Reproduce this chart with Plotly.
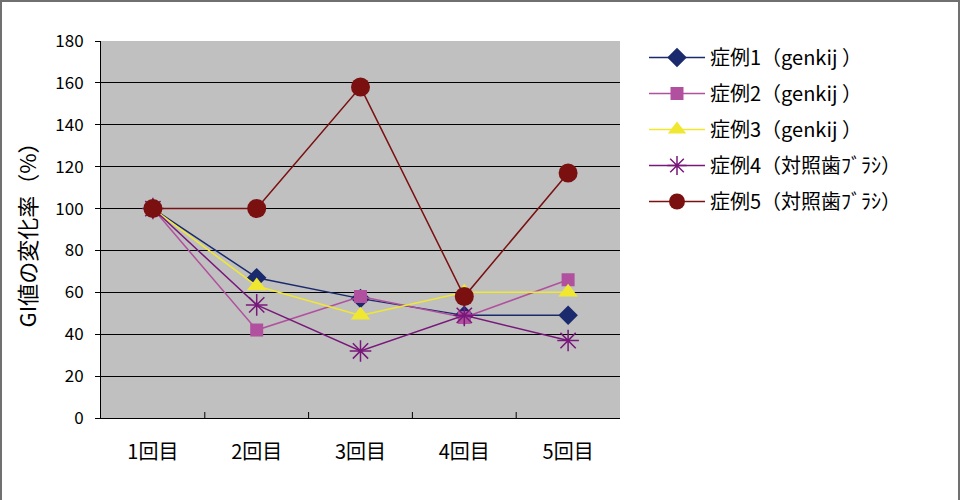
import plotly.graph_objects as go

categories = ["1回目", "2回目", "3回目", "4回目", "5回目"]
names = ["症例1（genkij ）", "症例2（genkij ）", "症例3（genkij ）",
         "症例4（対照歯ﾌﾞﾗｼ）", "症例5（対照歯ﾌﾞﾗｼ）"]
case1 = [100, 67, 57, 49, 49]
case2 = [100, 42, 58, 48, 66]
case3 = [100, 63, 49, 60, 60]
case4 = [100, 54, 32, 49, 37]
case5 = [100, 100, 158, 58, 117]
y_ticks = [0, 20, 40, 60, 80, 100, 120, 140, 160, 180]

series = [case1, case2, case3, case4, case5]
colors = ["#1a2a6c", "#b0509e", "#f0e830", "#78187a", "#7a1010"]
symbols = ["diamond", "square", "triangle-up", "asterisk-open", "circle"]
sizes = [15, 13, 17, 18, 19]

FONT = "Noto Sans CJK JP"

fig = go.Figure()
for i, (vals, nm, c, s, sz) in enumerate(zip(series, names, colors, symbols, sizes)):
    marker = dict(symbol=s, size=sz, color=c)
    if s == "asterisk-open":
        marker["line"] = dict(color=c, width=1.5)
    fig.add_trace(go.Scatter(
        x=categories, y=vals, name=nm, mode="lines+markers",
        line=dict(color=c, width=1.5), marker=marker,
        legendgroup=f"g{i}",
    ))

W, H = 960, 500
L, R, T, B = 101, 340, 41, 82
pw, ph = W - L - R, H - T - B

fig.update_layout(
    width=W, height=H,
    margin=dict(l=L, r=R, t=T, b=B, autoexpand=False),
    paper_bgcolor="white", plot_bgcolor="#c0c0c0",
    font=dict(family=FONT, color="black", size=16),
    showlegend=True,
    legend=dict(x=(644 - L) / pw, y=(H - B - 38) / ph, xanchor="left", yanchor="top",
                font=dict(size=20, family=FONT), bgcolor="rgba(0,0,0,0)",
                tracegroupgap=7, traceorder="grouped", itemwidth=56),
    xaxis=dict(type="category", showgrid=False, showline=True, linecolor="black", linewidth=1,
               ticks="", tickfont=dict(size=20), range=[-0.5, 4.5], automargin=False,
               ticklabelstandoff=16),
    yaxis=dict(range=[0, 180], tickvals=y_ticks, showgrid=True, gridcolor="black", gridwidth=1,
               showline=True, linecolor="black", linewidth=1, ticks="outside", ticklen=5,
               tickcolor="black", tickfont=dict(size=17), zeroline=False, automargin=False,
               ticklabelstandoff=8,
               title=dict(text="GI値の変化率（%）", font=dict(size=22), standoff=12)),
)

# category boundary tick marks (inside, at the bottom)
for k in range(1, 5):
    fig.add_shape(type="line", xref="x", yref="paper", x0=k - 0.5, x1=k - 0.5, y0=0, y1=6 / ph,
                  line=dict(color="black", width=1))

# outer frame of the image
fig.add_shape(type="rect", xref="paper", yref="paper",
              x0=(1 - L) / pw, x1=(W - 1 - L) / pw, y0=(B - H + 1) / ph, y1=(H - B - 1) / ph,
              line=dict(color="#707070", width=2), fillcolor="rgba(0,0,0,0)", layer="below")

fig.write_html("out.html", config={"displayModeBar": False},
               post_script="document.body.style.margin='0';document.body.style.overflow='hidden';")
